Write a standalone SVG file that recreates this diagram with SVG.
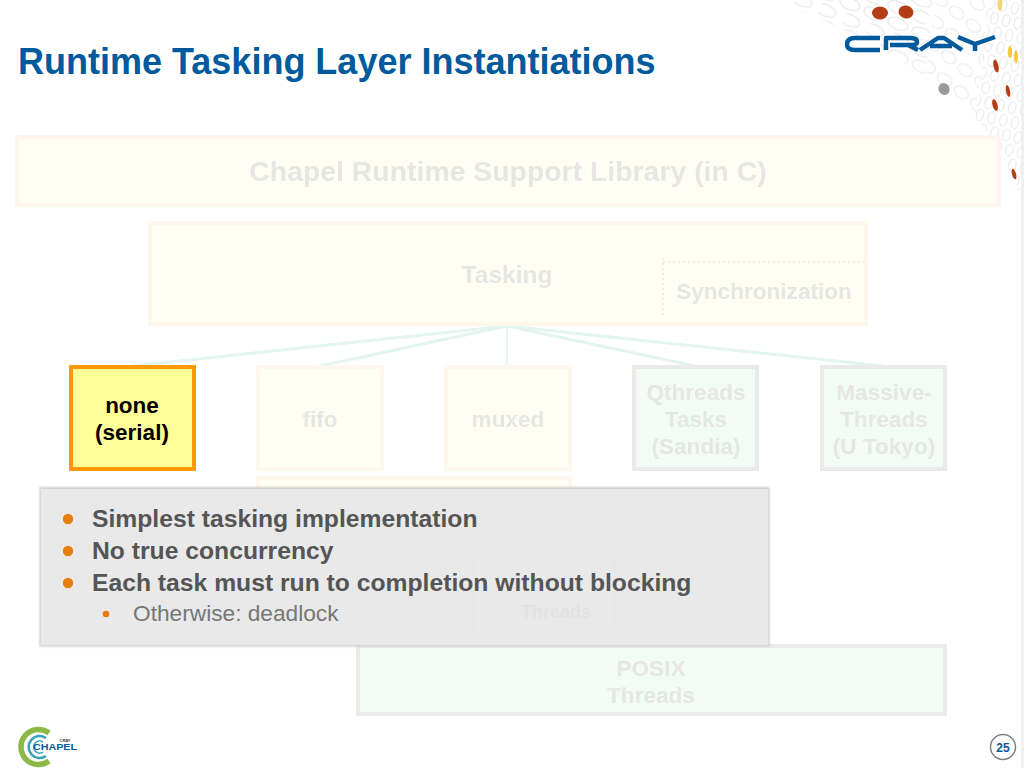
<svg xmlns="http://www.w3.org/2000/svg" width="1024" height="768" viewBox="0 0 1024 768">
<style>
text{font-family:"Liberation Sans",Arial,sans-serif}
.b{font-weight:bold}
.m{text-anchor:middle}
.ft{font-weight:bold;font-size:22.6px;fill:#e6e6e4;text-anchor:middle}
.warm{fill:#fffef4;stroke:#fff7ee;stroke-width:4}
.cool{fill:#f3fbf5;stroke:#e9eae9;stroke-width:4}
.pt{font-weight:bold;font-size:24.700px;fill:#555}
.r1{fill:none;stroke:#e8e8e8;stroke-width:1.100}
</style>
<defs>
<filter id="soft" x="-5%" y="-5%" width="110%" height="110%"><feGaussianBlur stdDeviation="0.7"/></filter>
<filter id="pshadow" x="-2%" y="-3%" width="104%" height="106%"><feGaussianBlur stdDeviation="1"/></filter>
<pattern id="p1" width="26" height="61.200" patternUnits="userSpaceOnUse" patternTransform="translate(793 5) rotate(22.600)">
<ellipse class="r1" cx="13" cy="7.600" rx="10.500" ry="5.800"/>
<ellipse class="r1" cx="19.500" cy="22.900" rx="10.500" ry="5.800"/>
<ellipse class="r1" cx="0" cy="38.200" rx="10.500" ry="5.800"/>
<ellipse class="r1" cx="26" cy="38.200" rx="10.500" ry="5.800"/>
<ellipse class="r1" cx="6.500" cy="53.500" rx="10.500" ry="5.800"/>
</pattern>
<pattern id="p2" width="21" height="40" patternUnits="userSpaceOnUse" patternTransform="translate(930 30) rotate(38)">
<ellipse class="r1" cx="10.500" cy="10" rx="8" ry="5.500"/>
<ellipse class="r1" cx="0" cy="30" rx="8" ry="5.500"/>
<ellipse class="r1" cx="21" cy="30" rx="8" ry="5.500"/>
</pattern>
<pattern id="p3" width="12" height="28" patternUnits="userSpaceOnUse" patternTransform="translate(990 10) rotate(12)">
<ellipse class="r1" cx="6" cy="7" rx="3.600" ry="6"/>
<ellipse class="r1" cx="0" cy="21" rx="3.600" ry="6"/>
<ellipse class="r1" cx="12" cy="21" rx="3.600" ry="6"/>
</pattern>
</defs>
<rect width="1024" height="768" fill="#fff"/>
<g id="backdrop">
<g filter="url(#soft)">
<path d="M780 0L838 27L897 58L925 76L935 0Z" fill="url(#p1)"/>
<path d="M935 0L925 76L957 100L975 118L990 0Z" fill="url(#p2)"/>
<path d="M990 0L975 118L983 127L1003 157L1024 205V0Z" fill="url(#p3)"/>
</g>
<rect x="1021" y="0" width="3" height="768" fill="#e8e8e8" opacity=".6"/>
<g fill="#b33d14">
<ellipse cx="880" cy="13" rx="8" ry="6.500"/>
<ellipse cx="906" cy="12" rx="7.500" ry="6.500" transform="rotate(15 906 12)"/>
<ellipse cx="996" cy="66" rx="2.500" ry="6.500" transform="rotate(-12 996 66)"/>
<ellipse cx="1008" cy="91" rx="2" ry="6" transform="rotate(-12 1008 91)"/>
<ellipse cx="995" cy="105" rx="2.500" ry="6" transform="rotate(-15 995 105)"/>
<ellipse cx="1014" cy="174" rx="2" ry="5.500" transform="rotate(-15 1014 174)"/>
</g>
<g fill="#f5c842">
<ellipse cx="1010" cy="52" rx="2.200" ry="6"/>
<ellipse cx="1016" cy="57" rx="2" ry="6.500"/>
<ellipse cx="1000" cy="4" rx="2.500" ry="7" opacity=".7"/>
</g>
<ellipse cx="944" cy="89" rx="5.500" ry="6" fill="#999" transform="rotate(-30 944 89)"/>
</g>
<g id="cray-logo" fill="none" stroke="#005a9c" stroke-width="4.500" stroke-linejoin="round">
<path d="M880 38H855Q847 38 847 44.500Q847 50 855 50H880" fill="#fff"/>
<path d="M886 50V38H911Q917 38 917 42Q917 45 911 45H890M908 45L918 50"/>
<path d="M920 50L938 38H944L962 50M930 46H952"/>
<path d="M958 37L975 44L995 37M975 44V51"/>
</g>
<text id="title" x="18" y="74" class="b" font-size="36" fill="#005a9c">Runtime Tasking Layer Instantiations</text>
<g id="connectors" stroke="#e3f5ef" fill="none" stroke-width="3" filter="url(#soft)">
<path d="M507 326L132 366"/>
<path d="M507 326L320 366"/>
<path d="M507 326V366" stroke-width="2"/>
<path d="M507 326L695 366"/>
<path d="M507 326L883 366"/>
</g>
<g id="runtime-library" filter="url(#soft)">
<rect class="warm" x="17" y="137" width="982" height="68"/>
<text class="ft" x="508" y="181" style="font-size:28.400px">Chapel Runtime Support Library (in C)</text>
</g>
<g id="tasking" filter="url(#soft)">
<rect class="warm" x="150" y="223" width="716" height="101"/>
<text class="ft" x="507" y="282.500" style="font-size:24.500px">Tasking</text>
</g>
<g id="synchronization" filter="url(#soft)">
<path d="M663 258V318M663 262H865" fill="none" stroke="#efefe0" stroke-width="1.800" stroke-dasharray="2 3"/>
<text class="ft" x="764" y="298.500">Synchronization</text>
</g>
<g id="none">
<rect x="71" y="367" width="123" height="102" fill="#ffff99" stroke="#ff9900" stroke-width="4"/>
<text class="b m" x="132" y="413" font-size="22.500" fill="#000">none</text>
<text class="b m" x="132" y="440" font-size="22.500" fill="#000">(serial)</text>
</g>
<g id="fifo" filter="url(#soft)">
<rect class="warm" x="258" y="367" width="124" height="102"/>
<text class="ft" x="320" y="426.500">fifo</text>
</g>
<g id="muxed" filter="url(#soft)">
<rect class="warm" x="446" y="367" width="124" height="102"/>
<text class="ft" x="508" y="426.500">muxed</text>
</g>
<g id="qthreads" filter="url(#soft)">
<rect class="cool" x="634" y="367" width="123" height="102"/>
<text class="ft" x="696" y="399.500">Qthreads</text>
<text class="ft" x="696" y="426.500">Tasks</text>
<text class="ft" x="696" y="453.500">(Sandia)</text>
</g>
<g id="massive-threads" filter="url(#soft)">
<rect class="cool" x="822" y="367" width="123" height="102"/>
<text class="ft" x="884" y="399.500">Massive-</text>
<text class="ft" x="884" y="426.500">Threads</text>
<text class="ft" x="884" y="453.500">(U Tokyo)</text>
</g>
<g id="hidden-layer" filter="url(#soft)">
<rect class="warm" x="258" y="478" width="312" height="60"/>
</g>
<g id="posix-threads" filter="url(#soft)">
<rect class="cool" x="358" y="646" width="587" height="68"/>
<text class="ft" x="651" y="675.500">POSIX</text>
<text class="ft" x="651" y="702.500">Threads</text>
</g>
<g id="panel">
<rect x="39.500" y="487" width="730" height="159.500" fill="#cfcfcf" filter="url(#pshadow)"/>
<rect x="41" y="489" width="727" height="156" fill="#e9e9e9"/>
<g fill="none" stroke="#e7e7e7" stroke-width="2" filter="url(#soft)">
<rect x="358" y="560" width="115" height="70"/>
<rect x="502" y="560" width="113" height="70"/>
</g>
<text x="556" y="618" class="m b" font-size="18" fill="#e2e2e2" filter="url(#soft)">Threads</text>
<g fill="#e57f10">
<circle cx="68" cy="519" r="5.200"/>
<circle cx="68" cy="551" r="5.200"/>
<circle cx="68" cy="583" r="5.200"/>
<circle cx="106" cy="614" r="3.300"/>
</g>
<text class="pt" x="92" y="527">Simplest tasking implementation</text>
<text class="pt" x="92" y="559">No true concurrency</text>
<text class="pt" x="92" y="590.500">Each task must run to completion without blocking</text>
<text x="133" y="621" font-size="22.700" fill="#777">Otherwise: deadlock</text>
</g>
<g id="chapel-logo">
<path d="M49 733A17.500 17.500 0 1 0 49 761" fill="none" stroke="#8cb848" stroke-width="5.500"/>
<path d="M46 738A11 11 0 1 0 46 756" fill="none" stroke="#3aa3b8" stroke-width="2.500"/>
<path d="M43 742A6 6 0 1 0 43 752" fill="none" stroke="#3aa3b8" stroke-width="1.500"/>
<text x="65" y="742" class="b m" font-size="4" fill="#333">CRAY</text>
<text x="33" y="750" class="b" font-size="9.500" fill="#005a9c" textLength="44" lengthAdjust="spacingAndGlyphs">CHAPEL</text>
</g>
<g id="page-number">
<circle cx="1003" cy="747" r="12.500" fill="#fff" stroke="#808080" stroke-width="1.500"/>
<text x="1003" y="751.500" class="b m" font-size="12" fill="#005a9c">25</text>
</g>
</svg>
